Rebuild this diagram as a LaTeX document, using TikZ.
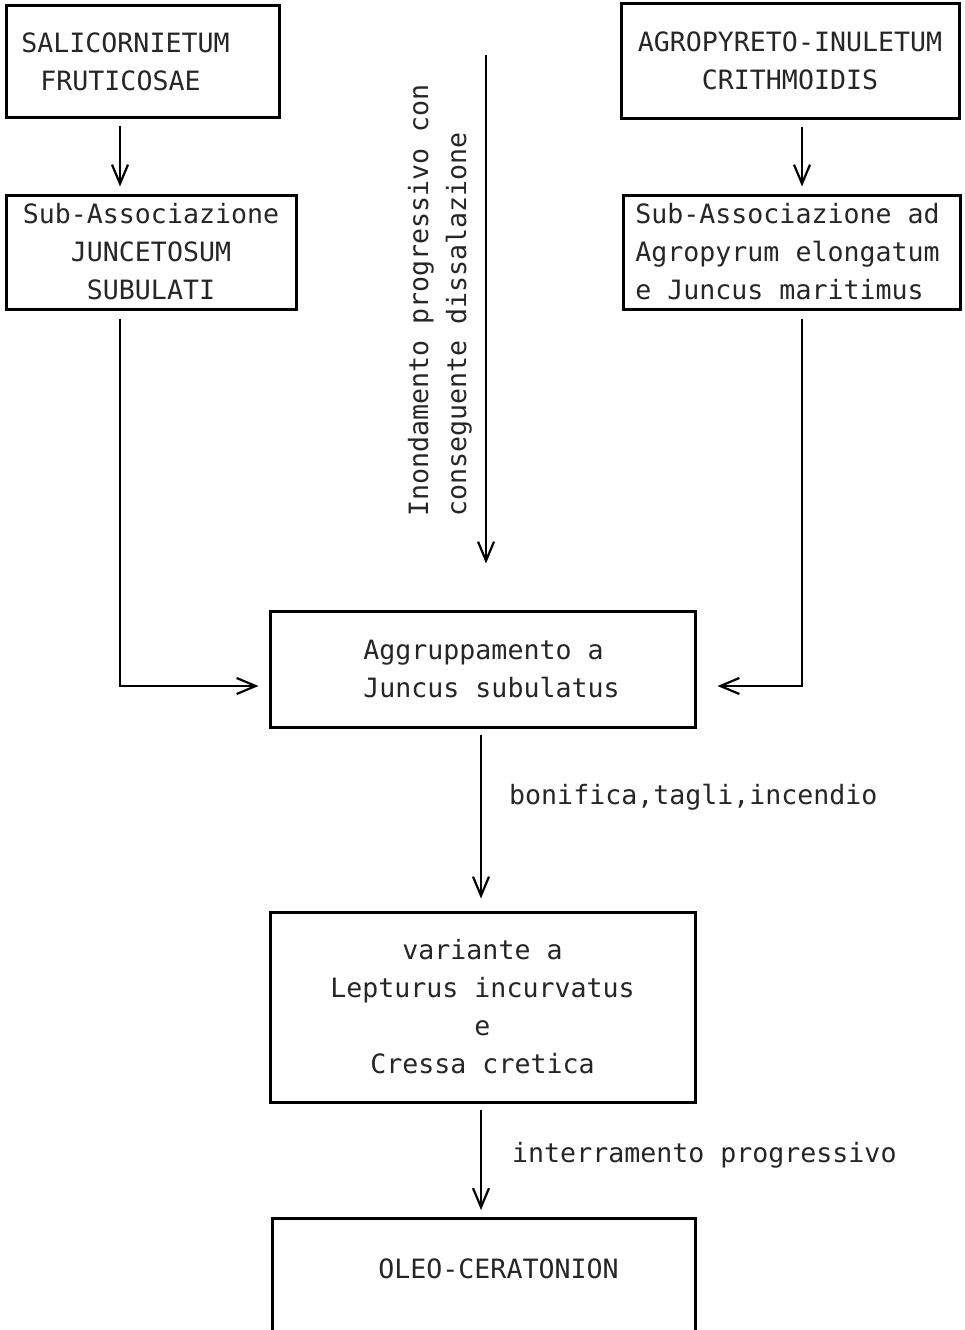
\documentclass[tikz,border=0pt]{standalone}
\usepackage{fontspec}
\setmonofont{DejaVu Sans Mono}
\usetikzlibrary{arrows.meta,calc}
\begin{document}
\begin{tikzpicture}[x=1pt,y=-1pt,
  every node/.style={font=\ttfamily\fontsize{26.6}{38}\selectfont, text=black!85},
  box/.style={draw, line width=3pt, align=center, inner sep=0pt},
  arr/.style={line width=2.2pt, -{Straight Barb[length=19pt,width=16pt]}},
  lbl/.style={inner sep=0pt, anchor=west},
  rotlbl/.style={rotate=90, anchor=south west, align=left, inner sep=0pt}]
\useasboundingbox (0,0) rectangle (965,1330);
\fill[white] (0,0) rectangle (965,1330);
\clip (0,0) rectangle (965,1330);

\node[box, minimum width=273pt, minimum height=111pt] (b1) at (142.5,61.5) {SALICORNIETUM\hspace*{34pt}\\FRUTICOSAE\hspace*{44pt}};
\node[box, minimum width=290pt, minimum height=114pt] (b2) at (151,252) {Sub-Associazione\\JUNCETOSUM\\SUBULATI};
\node[box, minimum width=338pt, minimum height=114pt] (b3) at (790,61) {AGROPYRETO-INULETUM\\CRITHMOIDIS};
\node[box, align=left, minimum width=337pt, minimum height=114pt] (b4) at (791.5,252) {Sub-Associazione ad\hspace*{8pt}\\Agropyrum elongatum\hspace*{8pt}\\e Juncus maritimus};
\node[box, align=left, minimum width=425pt, minimum height=116pt] (b5) at (482.5,669) {\hspace*{18pt}Aggruppamento a\\\hspace*{18pt}Juncus subulatus};
\node[box, minimum width=425pt, minimum height=190pt] (b6) at (482.5,1007) {variante a\\Lepturus incurvatus\\e\\Cressa cretica};
\node[box, anchor=north, minimum width=423pt, text height=20pt, text depth=110pt, inner ysep=40pt] (b7) at (483.5,1217) {\hspace*{30pt}OLEO-CERATONION};

\coordinate (xl) at (120,0);
\coordinate (xr) at (802,0);
\coordinate (xm) at (481,0);
\coordinate (ctop) at (486,55);
\coordinate (jl) at ($(b5.west)+(0,17)$);
\coordinate (jr) at ($(b5.east)+(0,17)$);

\draw[arr, shorten <=7pt, shorten >=7pt] (b1.south -| xl) -- (b2.north -| xl);
\draw[arr, shorten <=7pt, shorten >=7pt] (b3.south -| xr) -- (b4.north -| xr);
\draw[arr, shorten >=46pt] (ctop) -- (b5.north -| ctop);
\node[rotlbl] (rl) at (472,517) {Inondamento progressivo con\\conseguente dissalazione};
\draw[arr, shorten <=8pt, shorten >=10pt] (b2.south -| xl) |- (jl);
\draw[arr, shorten <=8pt, shorten >=21pt] (b4.south -| xr) |- (jr);
\draw[arr, shorten <=6pt, shorten >=12pt] (b5.south -| xm) -- (b6.north -| xm);
\node[lbl] (l1) at (509,797) {bonifica,tagli,incendio};
\draw[arr, shorten <=6pt, shorten >=7pt] (b6.south -| xm) -- (b7.north -| xm);
\node[lbl] (l2) at (512,1155) {interramento progressivo};
\end{tikzpicture}
\end{document}
